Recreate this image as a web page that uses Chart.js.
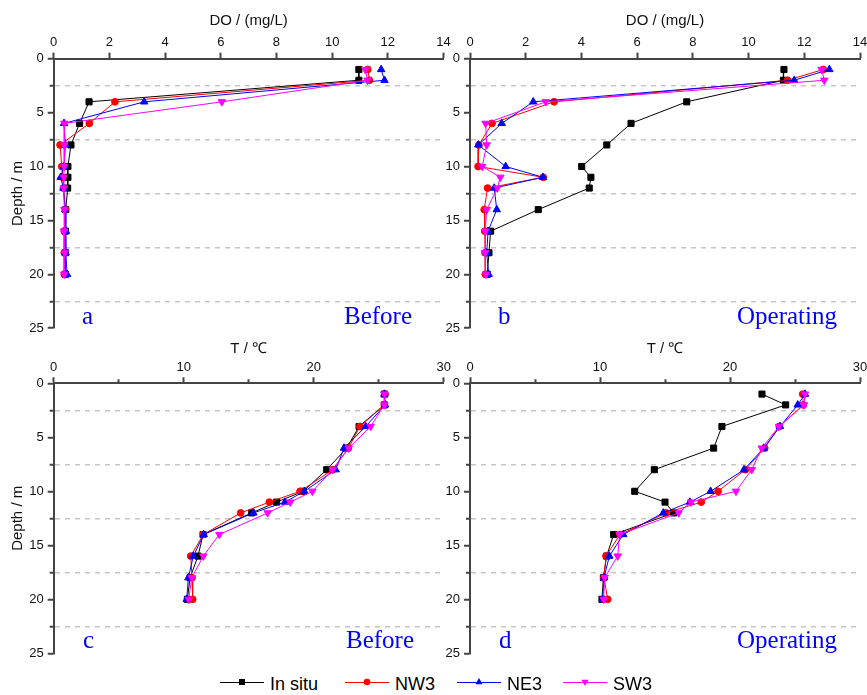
<!DOCTYPE html>
<html><head><meta charset="utf-8">
<script src="https://cdn.jsdelivr.net/npm/chart.js@4.4.0/dist/chart.umd.min.js"></script>
<style>
html,body{margin:0;padding:0;background:#fff;width:867px;height:695px;overflow:hidden;position:relative;}
canvas.panel{position:absolute;}
.lab{position:absolute;font-family:"Liberation Serif","Times New Roman",serif;font-size:25px;line-height:25px;color:#0000ff;white-space:nowrap;}
.lgtext{position:absolute;font-family:"Liberation Sans",Arial,sans-serif;font-size:18px;line-height:18px;color:#000;white-space:nowrap;}
.lgicon{position:absolute;}
</style></head>
<body>
<canvas id="ca" class="panel" width="460" height="340" style="left:0;top:0"></canvas>
<canvas id="cb" class="panel" width="460" height="340" style="left:420px;top:0"></canvas>
<canvas id="cc" class="panel" width="460" height="330" style="left:0;top:340px"></canvas>
<canvas id="cd" class="panel" width="460" height="330" style="left:420px;top:340px"></canvas>

<div class="lab" style="left:82px;top:303px">a</div>
<div class="lab" style="left:344px;top:303px">Before</div>
<div class="lab" style="left:498px;top:303px">b</div>
<div class="lab" style="left:737px;top:303px">Operating</div>
<div class="lab" style="left:83px;top:627px">c</div>
<div class="lab" style="left:346px;top:627px">Before</div>
<div class="lab" style="left:499px;top:627px">d</div>
<div class="lab" style="left:737px;top:627px">Operating</div>

<div id="legend"></div>

<script>
// ---- Data ----
const depth = [1, 2, 4, 6, 8, 10, 11, 12, 14, 16, 18, 20];
const seriesNames = ['In situ', 'NW3', 'NE3', 'SW3'];

// Panel a: DO before
const doBeforeInSitu = [10.96, 10.96, 1.27, 0.93, 0.62, 0.51, 0.51, 0.50, 0.43, 0.42, 0.42, 0.42];
const doBeforeNW3    = [11.28, 11.34, 2.20, 1.28, 0.23, 0.29, 0.32, 0.35, 0.43, 0.38, 0.38, 0.38];
const doBeforeNE3    = [11.76, 11.88, 3.25, 0.37, 0.42, 0.37, 0.25, 0.35, 0.41, 0.44, 0.43, 0.48];
const doBeforeSW3    = [11.19, 11.27, 6.04, 0.38, 0.38, 0.38, 0.36, 0.36, 0.38, 0.37, 0.40, 0.38];
// Panel b: DO operating
const doOperInSitu = [11.27, 11.25, 7.78, 5.78, 4.91, 4.01, 4.34, 4.28, 2.45, 0.74, 0.68, 0.62];
const doOperNW3    = [12.68, 11.40, 3.02, 0.79, 0.32, 0.29, 2.63, 0.63, 0.51, 0.53, 0.54, 0.55];
const doOperNE3    = [12.90, 11.64, 2.27, 1.14, 0.30, 1.28, 2.62, 0.87, 0.96, 0.65, 0.60, 0.67];
const doOperSW3    = [12.62, 12.72, 2.72, 0.56, 0.60, 0.44, 1.09, 0.98, 0.60, 0.55, 0.54, 0.57];
// Panel c: T before
const tBeforeInSitu = [25.44, 25.44, 23.49, 22.54, 21.00, 19.20, 17.15, 15.23, 11.49, 11.10, 10.49, 10.28];
const tBeforeNW3    = [25.49, 25.44, 23.56, 22.67, 21.46, 18.95, 16.59, 14.38, 11.51, 10.54, 10.64, 10.69];
const tBeforeNE3    = [25.44, 25.49, 24.00, 22.33, 21.69, 19.28, 17.79, 15.36, 11.54, 10.74, 10.36, 10.23];
const tBeforeSW3    = [25.44, 25.44, 24.38, 22.69, 21.46, 19.90, 18.20, 16.46, 12.74, 11.51, 10.62, 10.38];
// Panel d: T operating
const tOperInSitu = [22.46, 24.28, 19.38, 18.74, 14.18, 12.67, 15.00, 15.67, 11.05, 10.51, 10.26, 10.15];
const tOperNW3    = [25.59, 25.64, 23.79, 22.67, 21.18, 19.08, 17.79, 15.08, 11.54, 10.46, 10.31, 10.59];
const tOperNE3    = [25.77, 25.21, 23.85, 22.59, 21.08, 18.51, 16.92, 14.87, 11.79, 10.72, 10.31, 10.21];
const tOperSW3    = [25.77, 25.69, 23.77, 22.44, 21.67, 20.46, 17.00, 16.05, 11.51, 11.36, 10.36, 10.28];

// ---- Styles ----
const colors = ['#000000', '#ff0000', '#0000ff', '#ff00ff'];
const pStyles = ['rect', 'circle', 'triangle', 'triangle'];
const pRadius = [4.3, 3.4, 4.3, 4.3];
const pRot = [0, 0, 0, 180];
const FONT = "'Liberation Sans', Arial, sans-serif";
const AXIS = '#444444';

Chart.defaults.font.family = FONT;

function makePanel(id, cfg) {
  const datasets = cfg.series.map((vals, i) => ({
    label: seriesNames[i],
    data: depth.map((d, j) => ({ x: vals[j], y: d })),
    showLine: true,
    tension: 0,
    borderColor: colors[i],
    backgroundColor: colors[i],
    borderWidth: 1,
    pointStyle: pStyles[i],
    pointRadius: pRadius[i],
    pointRotation: pRot[i],
    pointBorderWidth: 1,
    order: 3 - i,
    clip: false
  }));
  new Chart(document.getElementById(id), {
    type: 'scatter',
    data: { datasets },
    options: {
      responsive: false,
      animation: false,
      events: [],
      layout: { padding: cfg.pad },
      plugins: { legend: { display: false }, tooltip: { enabled: false } },
      scales: {
        x: {
          type: 'linear', position: 'top', min: 0, max: cfg.xMax,
          afterFit: (s) => { s.height = cfg.xHeight; },
          ticks: {
            stepSize: cfg.xStep, autoSkip: false, maxRotation: 0, padding: 2,
            color: '#111', font: { size: 13, family: FONT },
            callback: (v) => (Math.round(v) % cfg.xLabelEvery === 0 ? String(v) : '')
          },
          grid: {
            drawOnChartArea: false, tickLength: 6, tickWidth: 2, tickColor: AXIS,
            tickBorderDash: (ctx) => (ctx.tick && Math.round(ctx.tick.value) % cfg.xLabelEvery !== 0 ? [0, 2, 10, 0] : [])
          },
          border: { color: AXIS, width: 2 },
          title: {
            display: true, text: cfg.xTitle, color: '#111',
            font: { size: 15, family: FONT }, padding: { top: cfg.xTitlePad, bottom: 0 }
          }
        },
        y: {
          type: 'linear', reverse: true, min: 0, max: 25,
          afterFit: (s) => { s.width = cfg.yWidth; },
          ticks: {
            stepSize: 2.5, autoSkip: false, padding: 4,
            color: '#111', font: { size: 13, family: FONT },
            callback: (v) => (v % 5 === 0 ? String(v) : '')
          },
          grid: {
            color: (ctx) => (ctx.tick && ctx.tick.value % 5 !== 0 ? '#c6c6c6' : 'rgba(0,0,0,0)'),
            lineWidth: 1.5,
            tickLength: 6, tickWidth: 2, tickColor: AXIS,
            tickBorderDash: (ctx) => (ctx.tick && ctx.tick.value % 5 !== 0 ? [0, 2, 10, 0] : [])
          },
          border: { color: AXIS, width: 2, dash: [5, 5] },
          title: {
            display: !!cfg.yTitle, text: cfg.yTitle || '', color: '#111',
            font: { size: 15, family: FONT }, padding: { top: 9, bottom: 0 }
          }
        }
      }
    }
  });
}

makePanel('ca', {
  series: [doBeforeInSitu, doBeforeNW3, doBeforeNE3, doBeforeSW3],
  xTitle: 'DO / (mg/L)', xMax: 14, xStep: 2, xLabelEvery: 2,
  yTitle: 'Depth / m', pad: { left: 0, top: 0, right: 16.5, bottom: 11 },
  yWidth: 53.7, xHeight: 58.7, xTitlePad: 12
});
makePanel('cb', {
  series: [doOperInSitu, doOperNW3, doOperNE3, doOperSW3],
  xTitle: 'DO / (mg/L)', xMax: 14, xStep: 2, xLabelEvery: 2,
  yTitle: '', pad: { left: 0, top: 0, right: 20, bottom: 11 },
  yWidth: 50, xHeight: 58.7, xTitlePad: 12
});
makePanel('cc', {
  series: [tBeforeInSitu, tBeforeNW3, tBeforeNE3, tBeforeSW3],
  xTitle: 'T / ℃', xMax: 30, xStep: 5, xLabelEvery: 10,
  yTitle: 'Depth / m', pad: { left: 0, top: 0, right: 16.3, bottom: 16.7 },
  yWidth: 53.7, xHeight: 43.3, xTitlePad: 0
});
makePanel('cd', {
  series: [tOperInSitu, tOperNW3, tOperNE3, tOperSW3],
  xTitle: 'T / ℃', xMax: 30, xStep: 5, xLabelEvery: 10,
  yTitle: '', pad: { left: 0, top: 0, right: 20, bottom: 16.7 },
  yWidth: 50, xHeight: 43.3, xTitlePad: 0
});

// ---- Legend (HTML, real text) ----
const legendIconX = [220, 345, 457, 563];
const legendTextX = [270, 395, 507, 613];
function markerSvg(i) {
  const c = colors[i];
  const cx = 22, cy = 7;
  let m = '';
  if (i === 0) m = `<rect x="${cx - 3}" y="${cy - 3}" width="6" height="6" fill="${c}"/>`;
  else if (i === 1) m = `<circle cx="${cx}" cy="${cy}" r="3.3" fill="${c}"/>`;
  else if (i === 2) m = `<polygon points="${cx},${cy - 4} ${cx + 3.6},${cy + 2.2} ${cx - 3.6},${cy + 2.2}" fill="${c}"/>`;
  else m = `<polygon points="${cx},${cy + 4} ${cx + 3.6},${cy - 2.2} ${cx - 3.6},${cy - 2.2}" fill="${c}"/>`;
  return `<svg width="44" height="14" xmlns="http://www.w3.org/2000/svg"><line x1="0" y1="7.5" x2="44" y2="7.5" stroke="${c}" stroke-width="1"/>${m}</svg>`;
}
const lg = document.getElementById('legend');
seriesNames.forEach((name, i) => {
  const icon = document.createElement('div');
  icon.className = 'lgicon';
  icon.style.left = legendIconX[i] + 'px';
  icon.style.top = '674.5px';
  icon.innerHTML = markerSvg(i);
  lg.appendChild(icon);
  const t = document.createElement('div');
  t.className = 'lgtext';
  t.style.left = legendTextX[i] + 'px';
  t.style.top = '675px';
  t.textContent = name;
  lg.appendChild(t);
});
</script>
</body></html>
